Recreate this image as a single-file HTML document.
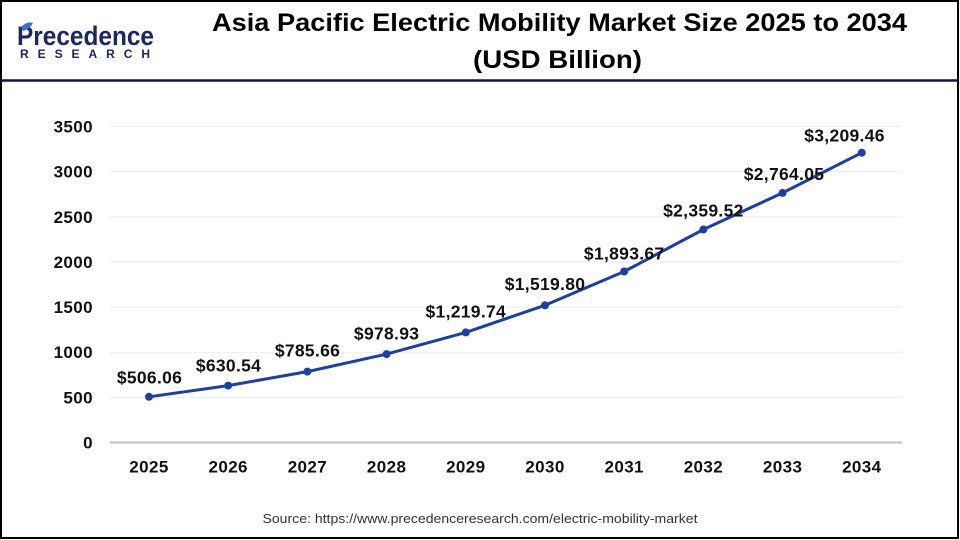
<!DOCTYPE html>
<html>
<head>
<meta charset="utf-8">
<style>
html,body{margin:0;padding:0;background:#fff;}
svg{display:block;}
text{font-family:"Liberation Sans",Arial,sans-serif;}
</style>
</head>
<body>
<svg width="960" height="540" viewBox="0 0 960 540" xmlns="http://www.w3.org/2000/svg">
  <rect x="0" y="0" width="960" height="540" fill="#fff"/>
  <!-- frame -->
  <rect x="1" y="1" width="957" height="537" fill="none" stroke="#000" stroke-width="2"/>
  <!-- header line -->
  <line x1="1" y1="80.5" x2="958" y2="80.5" stroke="#12143c" stroke-width="2.5"/>

  <!-- logo -->
  <text x="17" y="45" font-size="27" font-weight="bold" fill="#1c2660" textLength="137" lengthAdjust="spacingAndGlyphs">Precedence</text>
  <path d="M21 27 q6 -6 12 -4 q-3 6 -10 8 z" fill="#3a6fd0"/>
  <text x="20" y="58" font-size="12" font-weight="bold" fill="#1c2660" textLength="130" lengthAdjust="spacing">RESEARCH</text>

  <!-- title -->
  <text x="559.5" y="31" font-size="25" font-weight="bold" fill="#000" text-anchor="middle" textLength="695" lengthAdjust="spacingAndGlyphs">Asia Pacific Electric Mobility Market Size 2025 to 2034</text>
  <text x="557.5" y="68" font-size="25" font-weight="bold" fill="#000" text-anchor="middle" textLength="169" lengthAdjust="spacingAndGlyphs">(USD Billion)</text>

  <!-- gridlines -->
  <g stroke="#ececec" stroke-width="1">
    <line x1="110" y1="126.5" x2="902" y2="126.5"/>
    <line x1="110" y1="171.6" x2="902" y2="171.6"/>
    <line x1="110" y1="216.8" x2="902" y2="216.8"/>
    <line x1="110" y1="261.9" x2="902" y2="261.9"/>
    <line x1="110" y1="307.1" x2="902" y2="307.1"/>
    <line x1="110" y1="352.2" x2="902" y2="352.2"/>
    <line x1="110" y1="397.4" x2="902" y2="397.4"/>
  </g>
  <line x1="110" y1="442.5" x2="902" y2="442.5" stroke="#bfbfbf" stroke-width="2"/>

  <!-- y labels -->
  <g font-size="17" font-weight="bold" fill="#111" text-anchor="end" letter-spacing="0.4">
    <text x="93" y="132.5">3500</text>
    <text x="93" y="177.6">3000</text>
    <text x="93" y="222.8">2500</text>
    <text x="93" y="267.9">2000</text>
    <text x="93" y="313.1">1500</text>
    <text x="93" y="358.2">1000</text>
    <text x="93" y="403.4">500</text>
    <text x="93" y="448.5">0</text>
  </g>

  <!-- x labels -->
  <g font-size="17" font-weight="bold" fill="#111" text-anchor="middle" letter-spacing="0.4">
    <text x="149" y="472.5">2025</text>
    <text x="228.2" y="472.5">2026</text>
    <text x="307.4" y="472.5">2027</text>
    <text x="386.6" y="472.5">2028</text>
    <text x="465.8" y="472.5">2029</text>
    <text x="545" y="472.5">2030</text>
    <text x="624.2" y="472.5">2031</text>
    <text x="703.4" y="472.5">2032</text>
    <text x="782.6" y="472.5">2033</text>
    <text x="861.8" y="472.5">2034</text>
  </g>

  <!-- series line -->
  <polyline fill="none" stroke="#1e3f9e" stroke-width="3" stroke-linejoin="round" stroke-linecap="round"
    points="149,396.8 228.2,385.6 307.4,371.6 386.6,354.1 465.8,332.4 545,305.3 624.2,271.5 703.4,229.5 782.6,192.9 861.8,152.7"/>
  <g fill="#1e3f9e">
    <circle cx="149" cy="396.8" r="4"/>
    <circle cx="228.2" cy="385.6" r="4"/>
    <circle cx="307.4" cy="371.6" r="4"/>
    <circle cx="386.6" cy="354.1" r="4"/>
    <circle cx="465.8" cy="332.4" r="4"/>
    <circle cx="545" cy="305.3" r="4"/>
    <circle cx="624.2" cy="271.5" r="4"/>
    <circle cx="703.4" cy="229.5" r="4"/>
    <circle cx="782.6" cy="192.9" r="4"/>
    <circle cx="861.8" cy="152.7" r="4"/>
  </g>

  <!-- data labels -->
  <g font-size="17.5" font-weight="bold" fill="#111" text-anchor="middle" letter-spacing="0.3">
    <text x="149.5" y="383.3">$506.06</text>
    <text x="228.5" y="371.7">$630.54</text>
    <text x="307.5" y="356.7">$785.66</text>
    <text x="386.6" y="339.3">$978.93</text>
    <text x="465.8" y="317.3">$1,219.74</text>
    <text x="545" y="290">$1,519.80</text>
    <text x="624.2" y="259.5">$1,893.67</text>
    <text x="703.4" y="216.7">$2,359.52</text>
    <text x="784" y="180">$2,764.05</text>
    <text x="844.5" y="141.7">$3,209.46</text>
  </g>

  <!-- source -->
  <text x="480" y="523" font-size="13" fill="#333" text-anchor="middle" textLength="435" lengthAdjust="spacingAndGlyphs">Source: https://www.precedenceresearch.com/electric-mobility-market</text>
</svg>
</body>
</html>
